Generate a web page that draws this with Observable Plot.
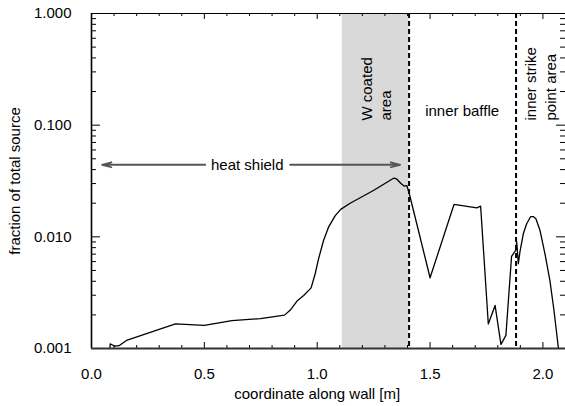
<!DOCTYPE html>
<html>
<head>
<meta charset="utf-8">
<script src="https://cdn.jsdelivr.net/npm/d3@7"></script>
<script src="https://cdn.jsdelivr.net/npm/@observablehq/plot@0.6"></script>
<style>
  html, body { margin: 0; padding: 0; background: #fff; }
</style>
</head>
<body>
<div id="chart"></div>
<script>
// Curve: coordinate along wall [m] and fraction of total source
const coord = [0.080, 0.083, 0.091, 0.102, 0.122, 0.139, 0.155, 0.372, 0.500, 0.622, 0.748, 0.855, 0.881, 0.912, 0.940, 0.973, 0.991, 1.006, 1.028, 1.050, 1.080, 1.104, 1.146, 1.249, 1.340, 1.352, 1.370, 1.386, 1.397, 1.408, 1.441, 1.500, 1.606, 1.707, 1.724, 1.758, 1.788, 1.814, 1.836, 1.861, 1.879, 1.884, 1.891, 1.898, 1.913, 1.928, 1.946, 1.957, 1.969, 1.987, 2.009, 2.031, 2.049, 2.068, 2.073];
const fraction = [0.00092, 0.00110, 0.00108, 0.00105, 0.00106, 0.00112, 0.00118, 0.00166, 0.00161, 0.00178, 0.00185, 0.00199, 0.00221, 0.00268, 0.00298, 0.00349, 0.00467, 0.00635, 0.00927, 0.0122, 0.0155, 0.0176, 0.0200, 0.0260, 0.0336, 0.0330, 0.0302, 0.0284, 0.0288, 0.0243, 0.0131, 0.00430, 0.0195, 0.0182, 0.0188, 0.00166, 0.00243, 0.00109, 0.00131, 0.00667, 0.00755, 0.00896, 0.00574, 0.00729, 0.01064, 0.01309, 0.0152, 0.0152, 0.0145, 0.0114, 0.00705, 0.00406, 0.00219, 0.00103, 0.00092];

// Regions
const wCoated = [1.111, 1.407];
const boundaries = [1.407, 1.881];

// Heat shield arrow
const heatShieldY = 0.0442;
const heatShieldArrows = [[0.504, 0.047], [0.880, 1.367]];

// Annotation labels
const labelText = ["heat shield", "inner baffle"];
const labelX = [0.69, 1.642];
const labelY = [0.0442, 0.1325];
const rotText = ["W coated\narea", "inner strike\npoint area"];
const rotX = [1.257, 1.987];
const rotY = [0.110, 0.110];

// Ticks
const yMajor = [0.001, 0.01, 0.1, 1];
const yTickLabels = ["0.001", "0.010", "0.100", "1.000"];
const yMinor = [0.001, 0.01, 0.1].flatMap(d => [2,3,4,5,6,7,8,9].map(k => +(d*k).toPrecision(3)));
const xMajor = [0, 0.5, 1.0, 1.5, 2.0];
const xTickLabels = ["0.0", "0.5", "1.0", "1.5", "2.0"];
const xMinor = [0.1,0.2,0.3,0.4,0.6,0.7,0.8,0.9,1.1,1.2,1.3,1.4,1.6,1.7,1.8,1.9,2.1];

const curve = coord.map((c, i) => ({x: c, y: fraction[i]}));
const labels = labelText.map((t, i) => ({t, x: labelX[i], y: labelY[i]}));
const rlabels = rotText.map((t, i) => ({t, x: rotX[i], y: rotY[i]}));
const arrows = heatShieldArrows.map(([a, b]) => ({x1: a, x2: b, y: heatShieldY}));

const W = 565, H = 406;
const mL = 91, mR = 0, mT = 13, mB = 58;
const pw = W - mL - mR, ph = H - mT - mB;
const font = "'Liberation Sans', Arial, Helvetica, sans-serif";

const chart = Plot.plot({
  width: W, height: H,
  marginLeft: mL, marginRight: mR, marginTop: mT, marginBottom: mB,
  style: {fontFamily: font, fontSize: "15px", color: "black", background: "white"},
  x: {domain: [0, 2.1], label: null},
  y: {type: "log", domain: [0.001, 1], label: null},
  marks: [
    Plot.rect([wCoated], {x1: d => d[0], x2: d => d[1], y1: 0.001, y2: 1, fill: "#d9d9d9"}),
    Plot.ruleX(boundaries, {stroke: "black", strokeWidth: 2, strokeDasharray: "5,3"}),
    Plot.line(curve, {x: "x", y: "y", stroke: "black", strokeWidth: 1.3, clip: true}),
    // arrows
    Plot.arrow(arrows, {x1: "x1", x2: "x2", y1: "y", y2: "y", stroke: "#555", strokeWidth: 1.8, headLength: 8, headAngle: 30}),
    Plot.text(labels, {x: "x", y: "y", text: "t", fontSize: 15, fill: "black"}),
    Plot.text(rlabels, {x: "x", y: "y", text: "t", rotate: -90, textAnchor: "start", lineAnchor: "middle", lineHeight: 1.3, fontSize: 15, fill: "black"}),
    // y ticks inward, left and right
    Plot.tickY(yMajor, {y: d => d, insetRight: pw - 9, stroke: "black"}),
    Plot.tickY(yMinor, {y: d => d, insetRight: pw - 5, stroke: "black"}),
    Plot.tickY(yMajor, {y: d => d, insetLeft: pw - 9, stroke: "black"}),
    Plot.tickY(yMinor, {y: d => d, insetLeft: pw - 5, stroke: "black"}),
    // x ticks inward, bottom and top
    Plot.tickX(xMajor, {x: d => d, insetTop: ph - 6, stroke: "black"}),
    Plot.tickX(xMinor, {x: d => d, insetTop: ph - 3, stroke: "black"}),
    Plot.tickX(xMajor, {x: d => d, insetBottom: ph - 6, stroke: "black"}),
    Plot.tickX(xMinor, {x: d => d, insetBottom: ph - 3, stroke: "black"}),
    // frame
    Plot.ruleY([1], {stroke: "black", strokeWidth: 1}),
    Plot.ruleX([0], {stroke: "black", strokeWidth: 1.6}),
    Plot.ruleY([0.001], {stroke: "#333", strokeWidth: 2}),
    // axes labels
    Plot.axisY({ticks: yMajor, tickSize: 0, tickPadding: 20, tickFormat: d => yTickLabels[yMajor.indexOf(d)], fontSize: 15,
      label: "fraction of total source", labelAnchor: "center", labelOffset: 82, labelArrow: "none"}),
    Plot.axisX({ticks: xMajor, tickSize: 0, tickPadding: 20, tickFormat: d => xTickLabels[xMajor.indexOf(d)], fontSize: 15, label: null}),
    Plot.text(["coordinate along wall [m]"], {x: 1.0, frameAnchor: "bottom", dy: 50, text: d => d, fontSize: 15})
  ]
});
document.getElementById("chart").appendChild(chart);
</script>
</body>
</html>
